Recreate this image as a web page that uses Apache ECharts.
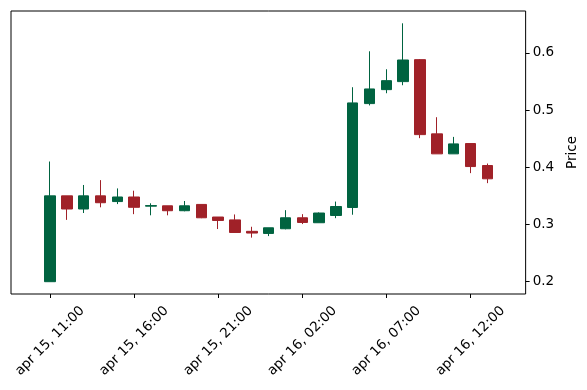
<!DOCTYPE html>
<html>
<head>
<meta charset="utf-8">
<script src="https://cdn.jsdelivr.net/npm/echarts@6/dist/echarts.min.js"></script>
<style>
html,body{margin:0;padding:0;background:#fff;}
#chart{width:587px;height:390px;}
</style>
</head>
<body>
<div id="chart"></div>
<script>
// hour offsets from apr 15, 11:00
const hours  = [0,1,2,3,4,5,6,7,8,9,10,11,12,13,14,15,16,17,18,19,20,21,22,23,24,25,26];
const opens  = [0.200,0.350,0.327,0.350,0.340,0.348,0.332,0.3326,0.324,0.335,0.313,0.308,0.288,0.2843,0.2925,0.3117,0.303,0.3157,0.3297,0.5112,0.5356,0.5496,0.588,0.4583,0.4234,0.4414,0.403];
const closes = [0.350,0.327,0.350,0.338,0.348,0.330,0.333,0.324,0.3326,0.3117,0.307,0.286,0.285,0.2942,0.3117,0.3035,0.320,0.3314,0.5124,0.5368,0.5513,0.5874,0.457,0.4234,0.4408,0.4012,0.3798];
const lows   = [0.200,0.308,0.320,0.330,0.3356,0.318,0.316,0.316,0.323,0.311,0.292,0.286,0.277,0.2797,0.2915,0.3007,0.303,0.311,0.317,0.508,0.5293,0.5433,0.4508,0.4234,0.4234,0.3897,0.3722];
const highs  = [0.410,0.350,0.369,0.3775,0.363,0.359,0.337,0.3326,0.341,0.335,0.313,0.3175,0.296,0.2942,0.325,0.318,0.321,0.340,0.5398,0.6026,0.5712,0.6515,0.589,0.4874,0.453,0.4414,0.4065];

const xTickHours  = [0,5,10,15,20,25];
const xTickLabels = ["apr 15, 11:00","apr 15, 16:00","apr 15, 21:00","apr 16, 02:00","apr 16, 07:00","apr 16, 12:00"];
const yTicks = [0.2,0.3,0.4,0.5,0.6];

const data = hours.map((h,i)=>[h, opens[i], closes[i], lows[i], highs[i]]);

const font = {fontFamily:'DejaVu Sans', fontSize:13.5, color:'#000'};
const chart = echarts.init(document.getElementById('chart'), null, {renderer:'canvas'});
chart.setOption({
  animation:false,
  backgroundColor:'#fff',
  grid:{left:11, top:11, width:515, height:283, show:true, borderColor:'#000', borderWidth:1, backgroundColor:'transparent', containLabel:false},
  xAxis:{
    type:'value', min:-2.32, max:28.28,
    axisLine:{show:false, onZero:false},
    splitLine:{show:false},
    axisTick:{show:true, customValues:xTickHours, length:4, lineStyle:{color:'#000', width:1}},
    axisLabel:{customValues:xTickHours, rotate:45, align:'center', verticalAlign:'middle', margin:47,
      formatter:(v)=>{const k=xTickHours.indexOf(Math.round(v)); return k>=0?xTickLabels[k]:'';},
      ...font}
  },
  yAxis:{
    type:'value', position:'right', min:0.1785, max:0.673, scale:true,
    axisLine:{show:false, onZero:false},
    splitLine:{show:false},
    axisTick:{show:true, customValues:yTicks, length:4, lineStyle:{color:'#000', width:1}},
    axisLabel:{customValues:yTicks, margin:7, formatter:(v)=>v.toFixed(1), ...font},
    name:'Price', nameLocation:'middle', nameRotate:90, nameGap:35,
    nameTextStyle:{...font}
  },
  series:[{
    type:'candlestick',
    data:data,
    encode:{x:0, y:[1,2,3,4]},
    barWidth:11,
    itemStyle:{color:'#006340', color0:'#A02128', borderColor:'#006340', borderColor0:'#A02128', borderWidth:1}
  }]
});
</script>
</body>
</html>
